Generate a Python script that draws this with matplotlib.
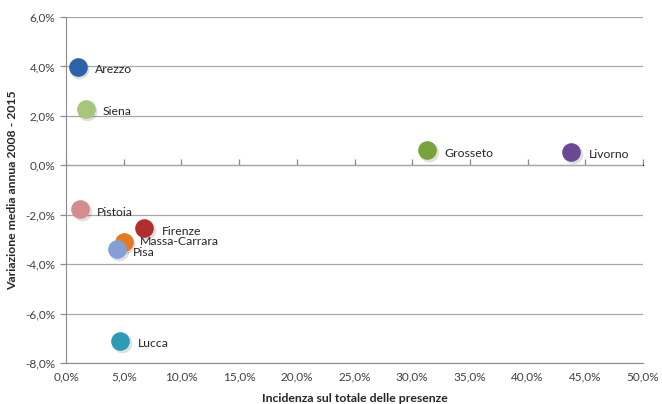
import matplotlib.pyplot as plt
from matplotlib.ticker import FuncFormatter

# province toscane: incidenza sulle presenze e variazione media annua
province = ['Arezzo', 'Siena', 'Grosseto', 'Livorno', 'Pistoia',
            'Firenze', 'Massa-Carrara', 'Pisa', 'Lucca']
incidenza = [1.0, 1.7, 31.3, 43.8, 1.2, 6.8, 5.0, 4.4, 4.7]
variazione = [3.97, 2.27, 0.60, 0.53, -1.78, -2.55, -3.10, -3.40, -7.10]
colori = ['#2E62A8', '#A6C679', '#78A23A', '#6B4796', '#D48C8C',
          '#B22E2E', '#E47C1F', '#82A0D6', '#2C9BB3']

plt.rcParams['font.family'] = ['Lato', 'DejaVu Sans']

fig = plt.figure(figsize=(6.62, 4.04), dpi=100)
ax = fig.add_axes([66 / 662, 1 - 363 / 404, 577 / 662, 346 / 404])

grigio = '#8C8C8C'
for x, y, c in zip(incidenza, variazione, colori):
    # ombra + sfera
    ax.scatter(x + 0.15, y - 0.08, s=200, color='#000000', alpha=0.12,
               linewidths=0, zorder=3)
    ax.scatter(x, y, s=180, color=c, linewidths=0, zorder=4)

offsets = {'Massa-Carrara': (12, 0), 'Pisa': (11.5, -2)}
for nome, x, y in zip(province, incidenza, variazione):
    dx, dy = offsets.get(nome, (12.5, -2))
    ax.annotate(nome, (x, y), xytext=(dx, dy), textcoords='offset points',
                fontsize=8.8, color='#262626', va='center', ha='left', zorder=5)

ax.set_xlim(0, 50)
ax.set_ylim(-8, 6)
ax.set_xticks(range(0, 51, 5))
ax.set_yticks(range(-8, 7, 2))
pct = FuncFormatter(lambda v, p: f'{v:.1f}%'.replace('.', ','))
ax.xaxis.set_major_formatter(pct)
ax.yaxis.set_major_formatter(pct)

ax.grid(axis='y', color='#A8A8A8', linewidth=0.9)
ax.set_axisbelow(True)
for s in ['top', 'right']:
    ax.spines[s].set_visible(False)
ax.spines['left'].set_color(grigio)
ax.spines['bottom'].set_color(grigio)
ax.tick_params(axis='y', colors=grigio, labelcolor='#404040', labelsize=8.5,
               length=4, width=0.9)
ax.tick_params(axis='x', length=0, labelcolor='#404040', labelsize=8.5, pad=6)

# asse orizzontale che incrocia a 0
asse0 = ax.secondary_xaxis(8 / 14)
asse0.set_xticks(range(0, 51, 5))
asse0.set_xticklabels([])
asse0.spines['bottom'].set_color(grigio)
asse0.tick_params(axis='x', colors=grigio, length=4, width=0.9,
                  direction='out')

ax.set_xlabel('Incidenza sul totale delle presenze', fontsize=8.8,
              fontweight='bold', color='#262626', labelpad=8)
ax.set_ylabel('Variazione media annua 2008 - 2015', fontsize=8.8,
              fontweight='bold', color='#262626', labelpad=5)

fig.savefig('out.png', dpi=100)
